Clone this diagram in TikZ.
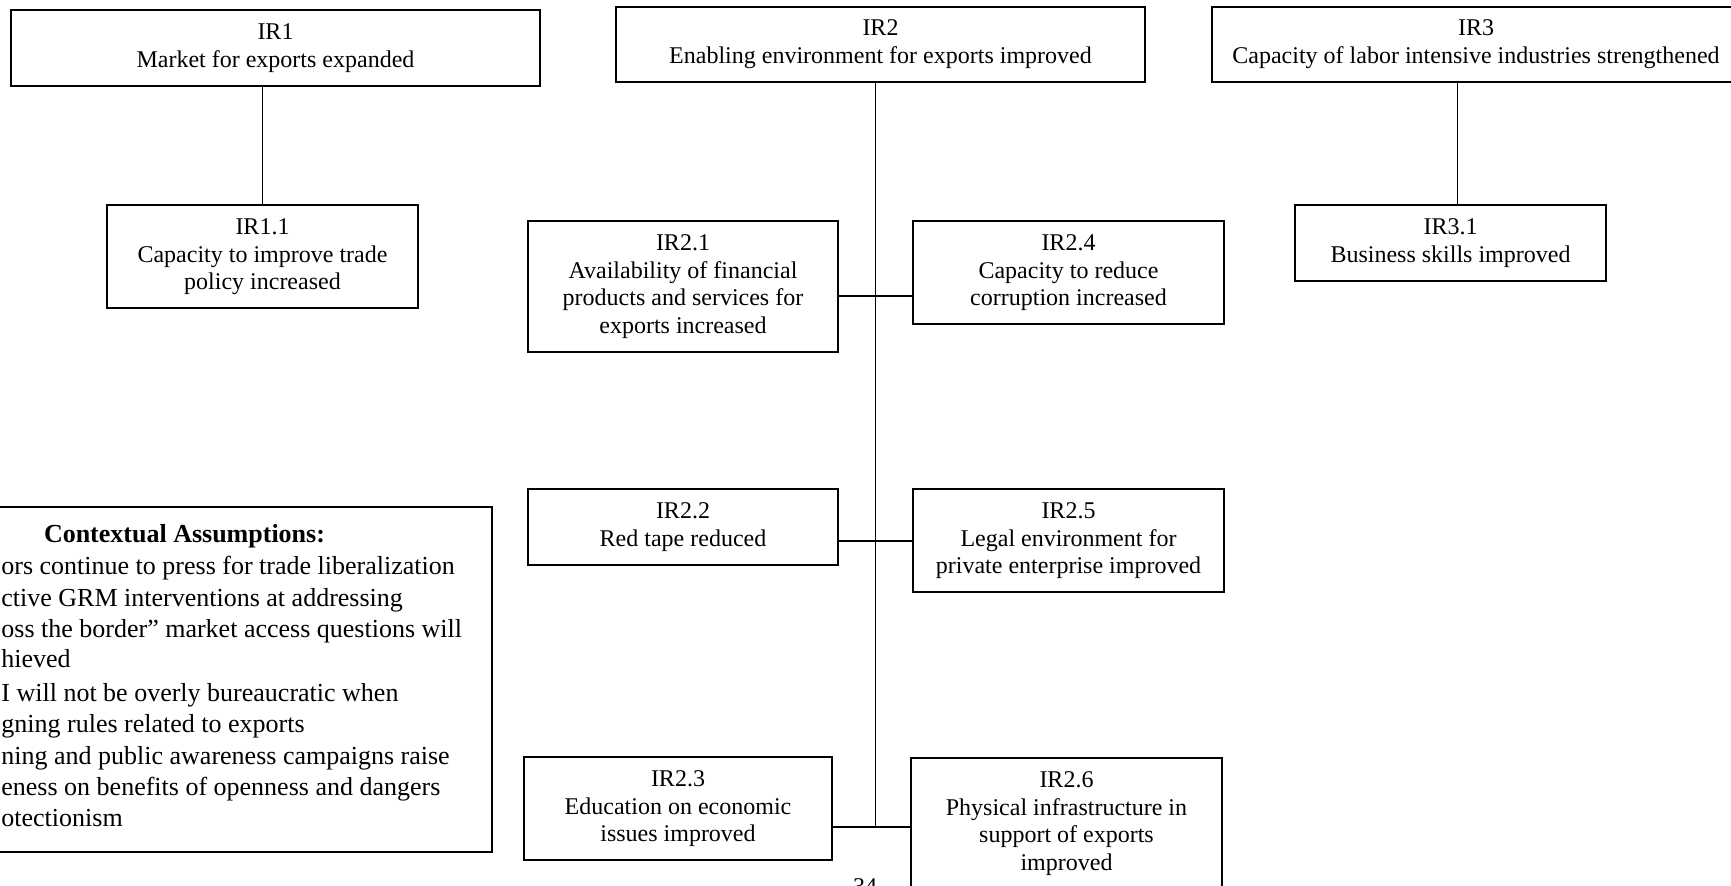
\documentclass[tikz,border=0pt]{standalone}
\usepackage{fontspec}
\setmainfont{Liberation Serif}
\usetikzlibrary{positioning}

\begin{document}
\begin{tikzpicture}[x=0.5pt, y=-0.5pt,
        box/.style={draw, line width=1pt, align=center, anchor=north, inner xsep=2pt, inner ysep=6.8pt, font=\fontsize{12}{13.8}\selectfont},
        link/.style={line width=0.9pt},
        note/.style={anchor=base west, inner sep=0pt, font=\fontsize{13}{15}\selectfont}]
        \useasboundingbox (0,0) rectangle (1731,885);
        \fill[white] (0,0) rectangle (1731,885);
        \clip (0,0) rectangle (1731,885);

        \node[box, minimum width=264.5pt] (IR1) at (275.5,9) {IR1\\Market for exports expanded};
        \node[box, minimum width=155.5pt] (IR11) at (262.5,204) {IR1.1\\Capacity to improve trade\\policy increased};
        \node[box, minimum width=264.5pt] (IR2) at (880.5,5.5) {IR2\\Enabling environment for exports improved};
        \node[box, minimum width=155pt] (IR21) at (683,220) {IR2.1\\Availability of financial\\products and services for\\exports increased};
        \node[box, minimum width=155.5pt] (IR24) at (1068.5,220) {IR2.4\\Capacity to reduce\\corruption increased};
        \node[box, minimum width=155pt] (IR22) at (683,488) {IR2.2\\Red tape reduced};
        \node[box, minimum width=155.5pt] (IR25) at (1068.5,488) {IR2.5\\Legal environment for\\private enterprise improved};
        \node[box, minimum width=154pt] (IR23) at (678,756) {IR2.3\\Education on economic\\issues improved};
        \node[box, minimum width=155.5pt] (IR26) at (1066.5,757) {IR2.6\\Physical infrastructure in\\support of exports\\improved};
        \node[box, minimum width=264pt] (IR3) at (1476,5.5) {IR3\\Capacity of labor intensive industries strengthened};
        \node[box, minimum width=155.5pt] (IR31) at (1450.5,204) {IR3.1\\Business skills improved};

        % assumptions box, cut by the page edge
        \node[draw, line width=1pt, minimum width=311pt, minimum height=172.5pt, inner sep=0pt] (ctx) at (181,679.5) {};
        \node[anchor=base, inner sep=0pt, font=\fontsize{13}{15}\selectfont\bfseries] (ctxtitle) at (184.5,542) {Contextual Assumptions:};
        \foreach \y/\t in {574/ors continue to press for trade liberalization,
                           606/ctive GRM interventions at addressing,
                           637/oss the border” market access questions will,
                           667/hieved,
                           701/I will not be overly bureaucratic when,
                           732/gning rules related to exports,
                           764/ning and public awareness campaigns raise,
                           795/eness on benefits of openness and dangers,
                           826/otectionism}
            \node[note] at (1,\y) {\t};

        \node[anchor=base, inner sep=0pt, font=\fontsize{12}{13.8}\selectfont] (page) at (865,894) {34};

        \coordinate (j1) at (875.5,296);
        \coordinate (j2) at (875.5,541);
        \coordinate (j3) at (875.5,827);

        \draw[link] (IR11.north) -- (IR11.north |- IR1.south);
        \draw[link] (IR2.south -| j3) -- (j3);
        \draw[link] (IR21.east |- j1) -- (IR24.west |- j1);
        \draw[link] (IR22.east |- j2) -- (IR25.west |- j2);
        \draw[link] (IR23.east |- j3) -- (IR26.west |- j3);
        \draw[link] ([xshift=3.5pt]IR31.north) -- ([xshift=3.5pt]IR31.north |- IR3.south);

    \end{tikzpicture}
\end{document}
